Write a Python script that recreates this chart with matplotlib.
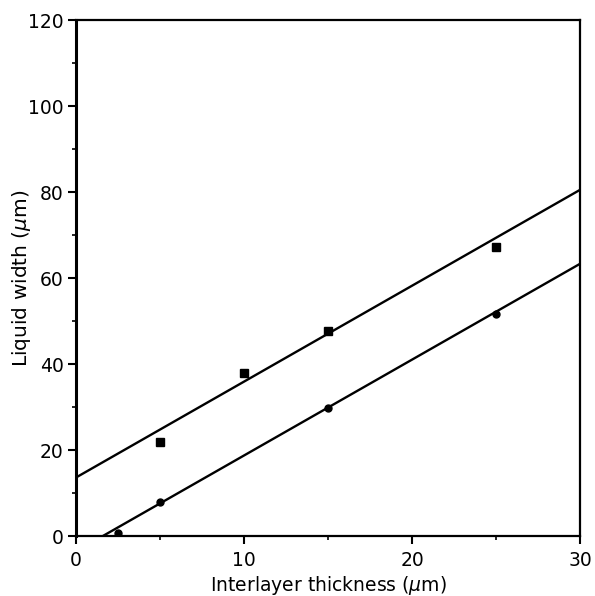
import matplotlib
matplotlib.use("Agg")
import matplotlib.pyplot as plt
from matplotlib.ticker import MultipleLocator

plt.rcParams['font.family'] = ['DejaVu Sans']
plt.rcParams['mathtext.fontset'] = 'dejavusans'

sq_x = [5, 10, 15, 25]
sq_y = [21.8, 38, 47.7, 67.3]
ci_x = [2.5, 5, 15, 25]
ci_y = [0.8, 7.8, 29.7, 51.7]

upper_x = [0, 30]
upper_y = [13.6, 80.5]
lower_x = [1.6, 30]
lower_y = [0, 63.3]

fig = plt.figure(figsize=(5.95, 5.96), dpi=100)
ax = fig.add_axes([76/595, 60/596, 504/595, 516/596])

ax.plot(upper_x, upper_y, color='black', lw=1.7)
ax.plot(lower_x, lower_y, color='black', lw=1.7)
ax.plot(sq_x, sq_y, 's', color='black', ms=6, ls='none')
ax.plot(ci_x, ci_y, 'o', color='black', ms=5, ls='none')

ax.set_xlim(0, 30)
ax.set_ylim(0, 120)
ax.xaxis.set_major_locator(MultipleLocator(10))
ax.xaxis.set_minor_locator(MultipleLocator(5))
ax.yaxis.set_major_locator(MultipleLocator(20))
ax.yaxis.set_minor_locator(MultipleLocator(10))
ax.tick_params(which='major', direction='out', length=6, width=1.5, labelsize=13.5, colors='black', pad=3)
ax.tick_params(which='minor', direction='out', length=3, width=1.2)
ax.tick_params(axis='x', pad=5)
for s in ax.spines.values():
    s.set_linewidth(1.6)
ax.spines['left'].set_linewidth(2.2)

ax.set_xlabel(r'Interlayer thickness ($\mathit{\mu}$m)', fontsize=13.5, labelpad=3)
ax.set_ylabel(r'Liquid width ($\mathit{\mu}$m)', fontsize=14.5, labelpad=-4)

fig.savefig('out.png', dpi=100)
